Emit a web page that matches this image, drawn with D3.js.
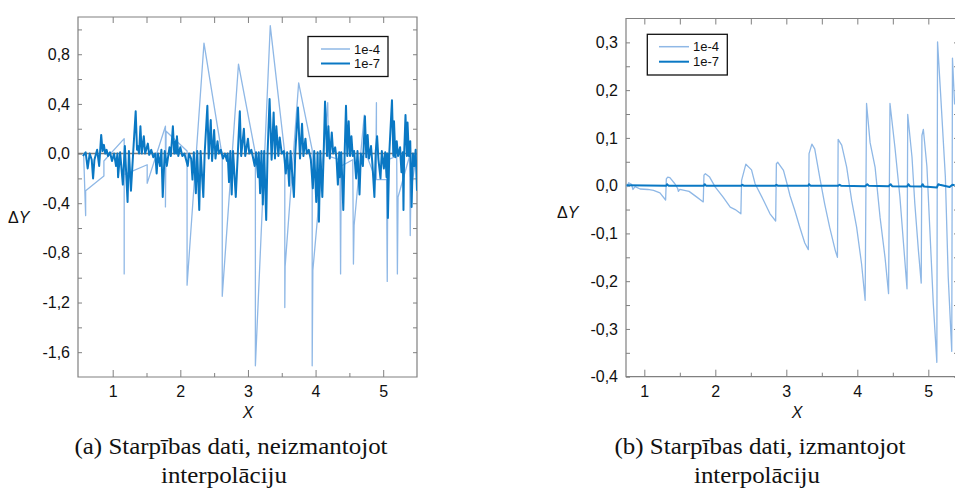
<!DOCTYPE html>
<html><head><meta charset="utf-8">
<script src="https://cdn.jsdelivr.net/npm/d3@7"></script>
<style>body{margin:0;background:#fff} svg{display:block}</style>
</head><body>
<svg id="c" width="955" height="493"></svg>
<script>
// ---------- data ----------
const seriesNames = ["1e-4", "1e-7"];
const leftXTicks = [1, 2, 3, 4, 5];
const leftXMinor = [1.5, 2.5, 3.5, 4.5];
const leftYTicks = [-1.6, -1.2, -0.8, -0.4, 0, 0.4, 0.8];
const leftYMinor = [-1.4, -1.0, -0.6, -0.2, 0.2, 0.6, 1.0];
const rightXTicks = [1, 2, 3, 4, 5];
const rightXMinor = [1.5, 2.5, 3.5, 4.5];
const rightYTicks = [-0.4, -0.3, -0.2, -0.1, 0, 0.1, 0.2, 0.3];
const rightYMinor = [-0.35, -0.25, -0.15, -0.05, 0.05, 0.15, 0.25];
const captionA = ["(a) Starpības dati, neizmantojot", "interpolāciju"];
const captionB = ["(b) Starpības dati, izmantojot", "interpolāciju"];

// left panel, series 1e-4 (no interpolation)
const left1e4 = [
 [0.57,0.0],[0.60,-0.5],[0.60,-0.30],[0.87,-0.18],[0.87,-0.06],[1.17,0.12],[1.17,-0.97],[1.17,-0.17],
 [1.51,-0.09],[1.51,-0.24],[1.78,0.22],[1.78,-0.43],[1.79,0.18],[2.10,0.02],[2.10,-1.06],[2.35,0.89],
 [2.62,-0.02],[2.62,-1.15],[2.86,0.72],[3.11,0.0],[3.11,-1.71],[3.33,1.03],[3.545,0.0],[3.545,-1.24],
 [3.55,-0.91],[3.75,0.57],[3.95,0.03],[3.95,-1.71],[3.96,-0.94],[4.18,0.41],[4.19,-0.02],[4.36,-0.05],
 [4.37,-0.97],[4.38,-0.1],[4.55,-0.05],[4.56,-0.89],[4.57,-0.58],[4.72,0.31],[4.76,-0.02],[4.89,-0.21],
 [4.90,0.41],[4.90,-0.21],[5.05,-0.21],[5.06,-1.03],[5.07,-0.05],[5.20,-0.02],[5.21,-0.97],[5.22,-0.35],
 [5.39,-0.02],[5.40,-0.66],[5.41,-0.3],[5.49,-0.02]
];
// left panel, series 1e-7
const left1e7 = [
 [0.56,-0.02],[0.60,0.01],[0.63,-0.12],[0.66,0.0],[0.69,-0.05],[0.71,-0.2],[0.73,-0.05],[0.77,0.03],
 [0.80,-0.1],[0.83,0.15],[0.85,0.02],[0.87,0.07],[0.89,0.0],[0.91,0.03],[0.93,-0.02],[0.96,0.01],
 [0.99,-0.06],[1.02,0.0],[1.05,-0.1],[1.07,0.0],[1.08,-0.19],[1.11,0.01],[1.15,-0.25],[1.18,0.06],
 [1.22,-0.39],[1.24,0.02],[1.27,-0.30],[1.30,-0.02],[1.34,0.34],[1.36,0.03],[1.37,0.06],[1.39,0.0],
 [1.41,0.22],[1.43,0.0],[1.46,0.14],[1.48,0.0],[1.52,0.08],[1.54,-0.01],[1.57,0.03],[1.60,-0.03],
 [1.63,0.0],[1.65,-0.16],[1.67,0.0],[1.70,-0.1],[1.72,0.03],[1.74,-0.35],[1.77,0.02],[1.80,-0.1],
 [1.84,0.05],[1.86,-0.02],[1.89,0.22],[1.91,0.0],[1.93,0.1],[1.94,0.0],[1.95,0.14],[1.97,-0.02],
 [2.00,0.05],[2.03,-0.02],[2.06,0.0],[2.08,-0.04],[2.11,-0.1],[2.13,0.0],[2.16,-0.04],[2.18,-0.21],
 [2.20,0.01],[2.23,-0.32],[2.25,0.02],[2.28,-0.455],[2.30,0.02],[2.34,-0.35],[2.36,0.0],[2.40,0.385],
 [2.42,-0.04],[2.45,0.27],[2.47,-0.06],[2.50,0.19],[2.52,-0.04],[2.55,0.1],[2.57,0.0],[2.60,0.03],
 [2.63,-0.04],[2.66,0.0],[2.69,-0.06],[2.70,0.0],[2.72,-0.23],[2.74,0.02],[2.76,-0.33],[2.78,0.02],
 [2.82,-0.35],[2.85,0.0],[2.88,0.34],[2.90,-0.02],[2.94,0.2],[2.96,-0.02],[3.00,0.12],[3.02,0.0],
 [3.05,0.03],[3.07,-0.02],[3.10,-0.1],[3.12,0.01],[3.15,-0.19],[3.16,0.01],[3.18,-0.32],[3.20,0.02],
 [3.22,-0.41],[3.24,0.02],[3.27,-0.535],[3.29,0.0],[3.32,0.44],[3.35,-0.05],[3.38,0.33],[3.40,-0.04],
 [3.42,0.22],[3.45,-0.02],[3.47,0.13],[3.50,0.0],[3.53,0.02],[3.56,-0.16],[3.58,0.01],[3.61,-0.26],
 [3.63,0.02],[3.68,-0.35],[3.70,0.01],[3.74,0.37],[3.77,-0.04],[3.80,0.24],[3.82,-0.02],[3.85,0.12],
 [3.87,0.0],[3.90,0.03],[3.93,-0.05],[3.96,-0.28],[3.98,0.02],[4.01,-0.39],[4.03,0.01],[4.05,-0.55],
 [4.07,0.02],[4.10,-0.35],[4.12,0.0],[4.14,0.42],[4.17,-0.02],[4.19,0.22],[4.21,-0.04],[4.24,0.17],
 [4.26,0.0],[4.29,0.05],[4.31,-0.04],[4.33,-0.25],[4.35,0.01],[4.36,-0.19],[4.38,0.01],[4.41,-0.455],
 [4.43,0.0],[4.45,0.385],[4.47,-0.02],[4.49,0.26],[4.51,-0.02],[4.53,0.14],[4.55,-0.02],[4.57,0.02],
 [4.60,-0.2],[4.62,0.02],[4.65,-0.33],[4.67,0.0],[4.70,-0.1],[4.73,0.3],[4.75,-0.03],[4.77,0.15],
 [4.79,-0.04],[4.82,0.06],[4.84,-0.08],[4.87,-0.35],[4.89,0.02],[4.91,0.14],[4.93,-0.05],[4.96,-0.2],
 [4.98,0.02],[5.01,-0.12],[5.03,0.01],[5.05,-0.19],[5.06,0.0],[5.07,-0.52],[5.09,0.0],[5.13,0.43],
 [5.15,-0.02],[5.16,0.26],[5.18,-0.03],[5.20,0.1],[5.22,-0.02],[5.25,0.05],[5.27,-0.15],[5.29,0.01],
 [5.30,-0.455],[5.31,0.0],[5.33,0.31],[5.35,-0.02],[5.36,0.25],[5.38,-0.02],[5.40,0.1],[5.42,-0.43],
 [5.44,0.0],[5.46,-0.1],[5.48,0.03],[5.50,-0.3]
];
// right panel, series 1e-4 (with interpolation)
const right1e4 = [
 [0.75,-0.003],[0.78,0.006],[0.82,0.003],[0.84,-0.008],[0.87,-0.002],[0.94,-0.007],[1.05,-0.008],
 [1.13,-0.01],[1.22,-0.015],[1.30,-0.03],[1.31,0.014],[1.33,0.018],[1.36,0.017],[1.43,0.004],[1.47,-0.006],
 [1.48,-0.012],[1.50,-0.008],[1.63,-0.012],[1.74,-0.024],[1.83,-0.034],[1.84,0.022],[1.86,0.025],
 [1.92,0.018],[2.00,-0.003],[2.11,-0.024],[2.21,-0.045],[2.28,-0.05],[2.36,-0.059],[2.37,0.011],
 [2.43,0.045],[2.51,0.033],[2.56,0.004],[2.68,-0.031],[2.77,-0.059],[2.85,-0.074],[2.86,0.046],
 [2.88,0.049],[2.96,0.032],[3.01,0.004],[3.05,-0.02],[3.12,-0.052],[3.19,-0.087],[3.26,-0.12],
 [3.31,-0.134],[3.32,0.067],[3.36,0.087],[3.40,0.077],[3.47,0.018],[3.54,-0.038],[3.61,-0.087],
 [3.69,-0.136],[3.72,-0.15],[3.73,0.097],[3.78,0.085],[3.85,0.039],[3.92,-0.031],[3.99,-0.087],
 [4.06,-0.164],[4.11,-0.24],[4.13,0.172],[4.18,0.09],[4.25,0.039],[4.32,-0.066],[4.39,-0.15],
 [4.44,-0.226],[4.46,0.172],[4.53,0.08],[4.60,-0.024],[4.65,-0.12],[4.70,-0.216],[4.71,0.149],
 [4.77,0.06],[4.81,-0.038],[4.86,-0.135],[4.90,-0.204],[4.91,0.105],[4.93,0.118],[4.98,0.04],
 [5.02,-0.087],[5.07,-0.247],[5.12,-0.37],[5.13,0.301],[5.17,0.2],[5.24,0.018],[5.28,-0.19],
 [5.33,-0.347],[5.34,0.267],[5.37,0.17]
];
// right panel, series 1e-7
const right1e7 = [
 [0.75,0.001],[1.31,0.0],[1.32,0.003],[1.34,0.0],[1.84,0.0],[1.85,0.003],[1.87,0.0],[2.37,0.0],
 [2.38,0.002],[2.40,0.0],[2.85,0.0],[2.86,0.002],[2.88,0.0],[3.31,0.0],[3.32,0.003],[3.34,0.0],
 [3.73,0.0],[3.75,0.002],[3.77,0.0],[4.11,-0.001],[4.14,0.003],[4.16,0.0],[4.44,-0.001],[4.47,0.003],
 [4.49,-0.001],[4.70,-0.002],[4.72,0.003],[4.74,-0.001],[4.90,-0.002],[4.92,0.003],[4.94,-0.002],
 [5.12,-0.004],[5.14,0.003],[5.16,0.002],[5.30,-0.003],[5.34,0.002],[5.37,0.001]
];

// ---------- drawing ----------
const svg = d3.select("#c");
const AX = "#808080", LIGHT = "#8fb8e6", DARK = "#0a78c4";
const fmt = d => (d === 0 ? "0,0" : d.toFixed(1).replace(".", ","));

function panel(o) {
  const x = d3.scaleLinear().domain(o.xDom).range([o.x0, o.x1]);
  const y = d3.scaleLinear().domain(o.yDom).range([o.y1, o.y0]);
  const g = svg.append("g");
  const id = "clip" + o.id;
  svg.append("clipPath").attr("id", id).append("rect")
    .attr("x", o.x0).attr("y", o.y0).attr("width", o.x1 - o.x0).attr("height", o.y1 - o.y0);

  const styleAxis = sel => {
    sel.select(".domain").remove();
    sel.selectAll(".tick line").attr("stroke", AX).attr("stroke-width", 1);
    sel.selectAll(".tick text").attr("fill", "#111")
      .style("font-family", "'Liberation Sans', Arial, sans-serif").style("font-size", "16px");
  };
  const yTickVals = o.yTicks;
  // bottom
  g.append("g").attr("transform", `translate(0,${o.y1})`)
    .call(d3.axisBottom(x).tickValues(o.xTicks).tickFormat(d3.format("d")).tickSize(-7).tickPadding(9)).call(styleAxis);
  g.append("g").attr("transform", `translate(0,${o.y1})`)
    .call(d3.axisBottom(x).tickValues(o.xMinor).tickFormat("").tickSize(-4)).call(styleAxis);
  // top
  g.append("g").attr("transform", `translate(0,${o.y0})`)
    .call(d3.axisTop(x).tickValues(o.xTicks.concat(o.xMinor)).tickFormat("").tickSize(-6)).call(styleAxis);
  // left
  g.append("g").attr("transform", `translate(${o.x0},0)`)
    .call(d3.axisLeft(y).tickValues(yTickVals).tickFormat(fmt).tickSize(-4).tickPadding(8)).call(styleAxis);
  g.append("g").attr("transform", `translate(${o.x0},0)`)
    .call(d3.axisLeft(y).tickValues(o.yMinor).tickFormat("").tickSize(-4)).call(styleAxis);
  // right
  g.append("g").attr("transform", `translate(${o.x1},0)`)
    .call(d3.axisRight(y).tickValues(yTickVals.concat(o.yMinor)).tickFormat("").tickSize(-4)).call(styleAxis);

  // frame
  g.append("path").attr("fill", "none").attr("stroke", AX).attr("stroke-width", 1.2)
    .attr("d", `M${o.x0},${o.y0}H${o.x1}V${o.y1}H${o.x0}Z`);

  const data = g.append("g").attr("clip-path", `url(#${id})`);
  if (o.zero) {
    data.append("line").attr("x1", o.x0).attr("x2", o.x1).attr("y1", y(0)).attr("y2", y(0))
      .attr("stroke", "#7a7a7a").attr("stroke-width", 1.5);
  }
  const line = d3.line().x(d => x(d[0])).y(d => y(d[1]));
  data.append("path").datum(o.light).attr("d", line).attr("fill", "none")
    .attr("stroke", LIGHT).attr("stroke-width", 1.3).attr("stroke-linejoin", "round");
  data.append("path").datum(o.dark).attr("d", line).attr("fill", "none")
    .attr("stroke", DARK).attr("stroke-width", 2).attr("stroke-linejoin", "round");

  // legend
  const L = o.legend;
  const lg = g.append("g");
  lg.append("rect").attr("x", L.x).attr("y", L.y).attr("width", L.w).attr("height", L.h)
    .attr("fill", "#fff").attr("stroke", "#111").attr("stroke-width", 1.3);
  [LIGHT, DARK].forEach((c, i) => {
    const yy = L.y + L.r0 + i * L.dr;
    lg.append("line").attr("x1", L.lx0).attr("x2", L.lx1).attr("y1", yy).attr("y2", yy)
      .attr("stroke", c).attr("stroke-width", i ? 2 : 1.5);
    lg.append("text").attr("x", L.lx1 + 4).attr("y", yy).attr("dy", "0.35em")
      .style("font-family", "'Liberation Sans', Arial, sans-serif").style("font-size", "13px")
      .attr("fill", "#111").text(seriesNames[i]);
  });

  // axis labels
  const yl = g.append("text").attr("x", o.ylab[0]).attr("y", o.ylab[1])
    .style("font-family", "'Liberation Sans', Arial, sans-serif").style("font-size", "16px").attr("fill", "#111");
  yl.append("tspan").text("Δ");
  yl.append("tspan").style("font-style", "italic").text("Y");
  g.append("text").attr("x", (o.x0 + o.x1) / 2 + o.xlabDx).attr("y", 418).attr("text-anchor", "middle")
    .style("font-family", "'Liberation Sans', Arial, sans-serif").style("font-size", "16px")
    .style("font-style", "italic").attr("fill", "#111").text("X");

  // caption
  o.caption.forEach((t, i) => {
    g.append("text").attr("transform", `translate(${o.capX[i]},${454 + i * 29}) scale(1.085,1)`)
      .attr("text-anchor", "middle")
      .style("font-family", "'Liberation Serif', 'Times New Roman', serif").style("font-size", "23px")
      .attr("fill", "#111").text(t);
  });
}

panel({
  id: "a", x0: 78, x1: 417, y0: 17, y1: 377,
  xDom: [0.487, 5.5], yDom: [-1.8, 1.1],
  xTicks: leftXTicks, xMinor: leftXMinor, yTicks: leftYTicks, yMinor: leftYMinor,
  light: left1e4, dark: left1e7, zero: true,
  legend: { x: 308, y: 36.5, w: 80, h: 40, r0: 12.5, dr: 14.5, lx0: 321, lx1: 350 },
  ylab: [8, 223], xlabDx: 0.5, caption: captionA, capX: [231, 224]
});
panel({
  id: "b", x0: 626, x1: 958, y0: 18.5, y1: 376.7,
  xDom: [0.742, 5.418], yDom: [-0.4, 0.35],
  xTicks: rightXTicks, xMinor: rightXMinor, yTicks: rightYTicks, yMinor: rightYMinor,
  light: right1e4, dark: right1e7, zero: false,
  legend: { x: 647.3, y: 34.3, w: 80, h: 40.7, r0: 12.4, dr: 15, lx0: 659, lx1: 689 },
  ylab: [557, 218], xlabDx: 5, caption: captionB, capX: [760, 757]
});
</script>
</body></html>
